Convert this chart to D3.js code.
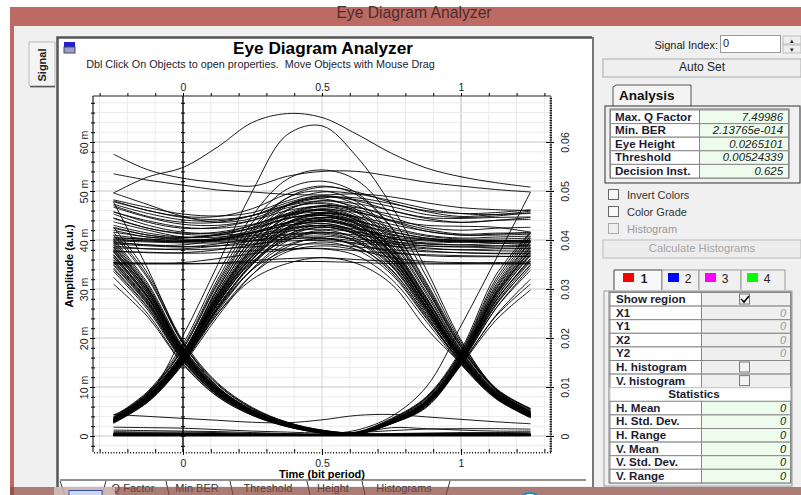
<!DOCTYPE html>
<html>
<head>
<meta charset="utf-8">
<script src="https://cdn.jsdelivr.net/npm/d3@7"></script>
<style>
  html, body { margin: 0; padding: 0; background: #fff; overflow: hidden; }
  text { font-family: "Liberation Sans", Arial, sans-serif; }
  .axis text { font-size: 10.5px; fill: #222; }
</style>
</head>
<body>
<svg id="chart" width="801" height="495"></svg>
<script>
// sample instants of every trace, in bit periods
const times = [-0.25, -0.125, 0, 0.125, 0.25, 0.375, 0.5, 0.625, 0.75, 0.875, 1, 1.125, 1.25];

// amplitudes in milli units
const flatTraces = [
  [48.2,46.6,45.3,44.9,45.6,48.0,49.8,49.4,48.0,46.4,45.4,45.2,45.9],
  [47.8,46.0,44.6,44.2,45.0,47.2,48.8,48.2,46.8,45.2,44.6,44.9,45.6],
  [47.3,45.4,44.1,43.9,45.0,47.0,48.0,47.4,46.0,44.6,44.4,44.6,44.7],
  [46.7,44.6,43.2,43.0,44.0,46.0,47.0,46.6,45.2,44.0,43.6,44.0,44.2],
  [45.7,43.9,42.6,42.4,43.2,45.2,46.2,45.6,44.0,43.0,42.8,42.6,41.6],
  [45.3,43.0,41.6,41.4,42.4,44.4,45.4,44.8,43.2,41.8,41.0,41.0,41.2],
  [44.5,42.4,41.2,41.0,41.6,43.6,44.6,43.8,42.2,40.8,40.2,40.2,40.4],
  [43.7,42.0,40.6,40.6,41.4,43.0,43.8,43.0,41.6,40.4,40.0,39.9,39.9],
  [42.4,41.0,40.2,40.2,41.0,42.4,43.0,42.2,41.0,40.2,39.9,39.8,39.7],
  [41.6,40.6,40.0,40.0,40.8,41.8,42.2,41.6,40.6,40.0,39.8,39.7,39.6],
  [40.4,40.2,39.9,39.9,40.4,41.2,41.6,41.0,40.2,39.8,39.6,39.4,39.0],
  [40.0,39.8,39.6,39.7,40.0,40.6,40.8,40.2,39.6,39.2,39.0,38.8,38.6],
  [39.8,39.6,39.4,39.4,39.8,40.2,40.4,39.8,39.2,38.8,38.6,38.4,38.3],
  [39.4,39.0,38.6,38.8,39.2,39.8,39.9,39.4,38.8,38.2,38.0,37.8,37.7],
  [38.4,38.2,38.0,38.2,38.6,39.0,39.2,38.6,38.0,37.6,37.4,37.3,37.3],
  [37.6,37.5,37.3,37.4,37.8,38.2,38.3,37.8,37.3,37.0,36.8,36.7,36.6],
  [35.1,35.1,35.2,35.3,35.8,36.2,36.4,36.0,35.6,35.3,35.2,35.1,35.1],
  [35.3,35.2,35.1,35.2,35.4,35.6,35.6,35.4,35.2,35.1,35.1,35.2,35.2],
  [49.6,47.2,44.8,43.6,44.4,47.0,48.6,48.6,47.4,46.0,45.4,45.6,46.2],
  [53.5,52.2,51.2,50.2,49.8,49.3,49.2,49.4,48.8,47.6,46.6,46.2,46.0]
];

const riseFallTraces = [
  [3.0,7.2,15.0,25.0,32.0,35.2,36.4,35.2,31.0,22.0,14.8,8.0,4.0],
  [3.2,7.6,15.5,26.0,34.0,38.0,39.6,38.0,33.0,24.0,15.2,8.2,4.2],
  [3.4,7.8,15.8,27.0,35.6,40.0,41.4,39.8,34.6,25.0,15.6,8.4,4.4],
  [2.8,7.4,15.2,26.0,35.0,40.6,42.6,41.0,35.6,26.0,16.0,8.6,4.5],
  [3.0,7.8,16.0,27.6,36.6,41.8,43.4,41.6,36.0,26.4,16.2,8.4,4.3],
  [3.3,8.0,16.4,28.0,37.4,42.6,44.2,42.6,37.0,27.0,16.6,8.8,4.7],
  [2.9,7.6,15.8,28.4,38.0,43.6,45.0,43.2,37.6,27.4,16.4,8.6,4.6],
  [3.5,8.2,16.8,29.0,39.0,44.6,46.0,44.2,38.4,28.0,17.0,9.0,4.8],
  [3.1,8.0,16.6,29.4,39.6,45.4,46.8,45.0,39.0,28.4,17.2,9.0,5.0],
  [3.6,8.6,17.2,30.0,40.4,46.2,47.6,45.8,40.0,29.4,17.6,9.2,5.2],
  [3.2,8.2,17.0,30.4,41.4,47.2,48.4,46.2,40.6,30.0,18.0,9.4,5.0],
  [3.7,8.8,17.8,31.4,42.4,48.6,50.0,47.8,41.4,30.6,18.2,9.6,5.4],
  [3.8,9.0,18.2,32.0,43.6,50.4,52.0,49.6,42.6,31.4,18.8,9.6,5.6],
  [4.0,9.2,18.8,33.0,45.0,52.4,54.3,52.2,44.6,32.6,19.2,9.8,5.6],
  [2.7,7.0,14.6,24.4,33.0,38.6,40.4,38.6,33.8,24.6,15.0,7.8,3.7],
  [2.9,7.3,15.1,25.4,34.2,39.8,42.0,40.2,34.8,25.4,15.4,8.1,4.1],
  [3.1,7.5,15.4,26.4,35.2,41.0,43.0,41.2,35.4,25.8,15.8,8.3,4.3],
  [3.0,7.7,15.7,27.2,36.2,42.2,44.6,42.8,36.6,26.6,16.0,8.5,4.4],
  [3.3,7.9,16.1,27.8,37.0,43.2,45.4,43.6,37.4,27.2,16.3,8.6,4.6],
  [3.4,8.1,16.3,28.6,38.4,44.2,46.4,44.6,38.6,28.2,16.8,8.9,4.8]
];

const riseStayTraces = [
  [3.1,7.6,15.6,27.0,36.0,42.0,44.0,42.6,40.4,39.2,39.0,39.3,39.4],
  [2.6,7.0,14.8,25.0,33.0,37.6,38.8,38.0,36.4,35.6,35.4,35.4,35.5],
  [3.3,8.0,16.2,28.0,37.4,43.6,45.6,44.6,42.6,41.0,40.4,40.6,40.8],
  [3.0,7.4,15.4,26.6,35.0,40.4,41.6,40.6,38.8,37.8,37.4,37.2,37.2],
  [3.4,8.2,16.6,28.6,38.4,44.8,46.8,45.8,43.8,41.8,41.0,41.2,41.6],
  [2.9,7.6,15.8,27.0,36.0,41.6,43.0,41.8,39.8,38.8,38.6,38.8,38.9],
  [3.6,8.6,17.0,30.0,40.6,47.0,49.0,48.0,46.0,44.4,43.6,44.0,44.6],
  [3.2,7.8,16.0,28.2,37.8,43.4,45.0,44.0,41.8,40.4,39.8,39.8,39.8],
  [3.8,8.8,17.8,31.0,41.8,48.6,50.8,49.8,47.6,45.8,44.8,45.2,45.4],
  [3.0,7.8,16.2,28.8,38.6,45.0,47.0,46.2,44.0,42.2,41.2,41.4,41.4],
  [3.5,8.4,16.8,29.4,39.8,46.0,48.0,46.8,44.6,42.6,42.0,42.4,42.6],
  [3.3,8.2,16.4,27.6,36.8,42.4,43.8,42.4,40.4,39.4,39.6,39.8,40.0],
  [2.8,7.2,15.0,25.8,34.0,39.0,40.2,39.2,37.6,36.8,36.6,36.6,36.7],
  [3.1,7.5,15.5,26.2,35.4,41.0,42.6,41.4,39.4,38.4,38.0,38.2,38.2],
  [3.2,7.9,16.0,27.4,36.6,42.6,44.6,43.4,41.2,40.0,39.6,39.6,39.5]
];

const stayFallTraces = [
  [42.0,40.6,40.4,41.2,43.0,45.0,45.6,44.0,37.0,27.0,16.0,8.2,4.2],
  [39.6,39.0,39.0,40.0,41.4,43.0,43.4,41.6,35.6,25.8,15.6,8.0,4.0],
  [45.8,43.6,42.4,42.6,44.0,46.6,47.4,45.6,39.6,29.0,17.4,9.0,4.8],
  [38.8,38.2,38.2,38.8,39.8,41.0,41.2,39.6,34.0,24.6,15.0,7.8,4.0],
  [47.0,44.8,43.6,43.6,45.0,47.6,49.0,47.2,41.0,30.2,18.2,9.4,5.0],
  [40.2,39.8,39.6,40.0,41.4,43.6,44.4,42.4,36.4,26.4,15.8,8.2,4.2],
  [35.4,35.3,35.4,36.2,37.2,38.0,38.2,36.8,32.0,23.4,14.6,7.6,3.8],
  [44.4,42.4,41.4,41.6,43.0,45.4,46.2,44.4,38.2,28.0,16.8,8.6,4.6],
  [41.0,40.2,39.8,40.4,42.0,44.4,45.2,43.4,37.4,27.2,16.2,8.4,4.4],
  [48.0,46.0,44.8,44.8,46.4,49.4,51.0,49.2,42.4,31.0,18.6,9.6,5.4],
  [37.8,37.4,37.4,38.0,39.0,40.2,40.4,38.8,33.4,24.2,14.8,7.8,3.9],
  [43.0,41.4,40.6,41.0,42.6,45.0,46.0,44.0,38.0,27.6,16.4,8.6,4.4],
  [40.6,40.0,39.7,40.2,41.6,43.4,44.0,42.2,36.2,26.2,15.7,8.1,4.1],
  [39.2,38.8,38.6,39.2,40.4,42.2,42.8,41.0,35.0,25.4,15.3,7.9,3.9],
  [42.6,41.0,40.5,41.0,42.4,44.4,45.0,43.2,37.2,27.0,16.1,8.3,4.3]
];

const fallZeroTraces = [
  [42.6,33.0,19.4,10.8,5.8,2.8,1.2,0.5,0.3,0.3,0.2,0.2,0.2],
  [41.0,32.0,18.8,10.4,5.6,2.7,1.1,0.5,0.4,0.3,0.3,0.2,0.3],
  [40.2,31.0,18.2,10.0,5.4,2.6,1.0,0.4,0.3,0.2,0.2,0.3,0.2],
  [39.4,30.2,17.8,9.8,5.2,2.5,1.0,0.4,0.2,0.2,0.2,0.2,0.2],
  [38.6,29.8,17.5,9.6,5.1,2.4,0.9,0.4,0.3,0.2,0.2,0.2,0.2],
  [38.0,29.4,17.2,9.4,5.0,2.4,0.9,0.3,0.2,0.3,0.3,0.3,0.3],
  [37.5,28.9,17.0,9.3,5.0,2.3,0.9,0.3,0.2,0.2,0.2,0.3,0.2],
  [37.0,28.4,16.8,9.2,4.9,2.3,0.9,0.3,0.2,0.2,0.2,0.2,0.2],
  [36.5,28.0,16.5,9.0,4.8,2.2,0.8,0.3,0.2,0.2,0.3,0.2,0.2],
  [36.0,27.6,16.2,8.9,4.7,2.2,0.8,0.3,0.3,0.2,0.2,0.2,0.3],
  [35.5,27.2,16.0,8.8,4.7,2.1,0.8,0.3,0.2,0.2,0.2,0.2,0.2],
  [35.0,26.8,15.8,8.6,4.6,2.1,0.8,0.3,0.2,0.2,0.2,0.2,0.2],
  [34.3,26.2,15.5,8.4,4.5,2.0,0.7,0.3,0.2,0.2,0.2,0.2,0.2],
  [33.6,25.6,15.2,8.3,4.4,2.0,0.7,0.2,0.2,0.2,0.2,0.2,0.2],
  [31.0,24.2,14.6,8.0,4.2,1.9,0.6,0.2,0.2,0.2,0.3,0.2,0.2],
  [39.0,30.0,17.6,9.7,5.2,2.5,0.9,0.4,0.3,0.2,0.2,0.2,0.3],
  [37.8,29.2,17.1,9.4,5.0,2.3,0.9,0.3,0.2,0.2,0.2,0.2,0.2],
  [36.8,28.2,16.6,9.1,4.8,2.2,0.8,0.3,0.2,0.3,0.2,0.2,0.2]
];

const fallRiseTraces = [
  [41.6,32.4,19.0,10.6,5.6,2.8,1.2,0.8,3.4,7.8,17.2,32.0,41.4],
  [39.8,30.6,18.0,10.0,5.2,2.5,1.0,0.6,3.0,7.2,16.4,30.0,39.6],
  [38.6,29.8,17.4,9.6,5.1,2.4,0.9,0.7,3.2,7.6,16.8,30.8,40.4],
  [37.6,28.8,17.0,9.2,4.9,2.3,0.8,0.5,2.8,6.8,15.8,28.6,37.8],
  [36.4,28.0,16.4,9.0,4.8,2.2,0.8,0.6,3.0,7.0,16.0,29.2,38.4],
  [35.4,27.0,16.0,8.7,4.6,2.1,0.7,0.5,2.7,6.4,15.2,27.4,36.2],
  [34.0,26.0,15.4,8.4,4.4,2.0,0.7,0.4,2.6,6.2,14.8,26.0,34.4],
  [32.4,24.8,14.8,8.1,4.2,1.9,0.6,0.4,2.5,6.0,14.6,24.6,32.0],
  [38.2,29.4,17.2,9.4,5.0,2.4,0.9,0.6,2.9,6.9,15.9,28.9,38.0],
  [37.0,28.4,16.7,9.1,4.8,2.2,0.8,0.5,2.8,6.6,15.5,28.0,37.0],
  [35.8,27.4,16.2,8.8,4.7,2.1,0.7,0.5,2.7,6.5,15.3,27.6,35.8],
  [34.8,26.6,15.6,8.5,4.5,2.0,0.7,0.4,2.6,6.3,15.0,26.6,35.0]
];

const zeroRiseTraces = [
  [0.3,0.2,0.2,0.2,0.2,0.2,0.3,0.8,3.6,8.0,17.6,32.8,41.6],
  [0.4,0.3,0.2,0.2,0.3,0.2,0.3,0.7,3.4,7.8,17.0,31.4,40.8],
  [0.2,0.2,0.3,0.2,0.2,0.2,0.3,0.6,3.2,7.4,16.6,30.4,39.8],
  [0.3,0.3,0.2,0.2,0.2,0.3,0.2,0.7,3.1,7.2,16.2,29.8,39.0],
  [0.2,0.2,0.2,0.3,0.2,0.2,0.3,0.6,3.0,7.0,15.8,29.0,37.6],
  [0.3,0.2,0.3,0.2,0.3,0.2,0.2,0.5,2.9,6.8,15.6,28.2,36.8],
  [0.2,0.3,0.2,0.2,0.2,0.2,0.2,0.5,2.8,6.6,15.4,27.0,35.6],
  [0.4,0.2,0.2,0.2,0.2,0.2,0.2,0.5,2.7,6.4,15.0,26.0,33.8],
  [0.2,0.2,0.2,0.2,0.2,0.3,0.2,0.4,2.6,6.0,14.6,24.4,31.0],
  [0.3,0.2,0.2,0.3,0.2,0.2,0.2,0.4,2.5,5.8,14.4,23.6,29.8],
  [0.3,0.2,0.2,0.2,0.2,0.2,0.2,0.6,3.0,7.1,16.0,29.4,38.6],
  [0.2,0.3,0.2,0.2,0.2,0.2,0.3,0.6,2.9,6.9,15.7,28.6,37.2],
  [0.3,0.2,0.2,0.2,0.3,0.2,0.2,0.5,2.8,6.7,15.5,27.6,36.2],
  [0.2,0.2,0.3,0.2,0.2,0.2,0.2,0.5,2.7,6.5,15.2,26.8,34.8]
];

const zeroTraces = [
  [0.0,0.0,0.0,0.0,0.0,0.0,0.0,0.0,0.0,0.0,0.0,0.0,0.0],
  [0.1,0.1,0.1,0.1,0.1,0.1,0.1,0.1,0.1,0.1,0.1,0.1,0.1],
  [0.2,0.2,0.2,0.2,0.2,0.1,0.1,0.1,0.2,0.2,0.2,0.2,0.2],
  [0.3,0.3,0.3,0.2,0.2,0.2,0.2,0.2,0.2,0.2,0.2,0.3,0.3],
  [0.4,0.4,0.4,0.3,0.3,0.2,0.2,0.2,0.3,0.3,0.3,0.4,0.4],
  [0.5,0.5,0.4,0.4,0.3,0.3,0.2,0.2,0.3,0.4,0.4,0.4,0.4],
  [0.6,0.6,0.5,0.5,0.4,0.3,0.3,0.3,0.3,0.4,0.5,0.5,0.5],
  [0.7,0.6,0.6,0.5,0.4,0.4,0.3,0.3,0.4,0.5,0.5,0.6,0.6],
  [0.9,0.8,0.8,0.7,0.5,0.4,0.3,0.3,0.5,0.6,0.7,0.7,0.8],
  [1.8,1.7,1.6,1.3,1.0,0.8,0.6,0.7,1.1,1.4,1.5,1.5,1.4],
  [1.2,1.1,1.0,0.9,0.7,0.5,0.4,0.5,1.7,1.5,1.2,1.0,1.0],
  [4.4,4.0,3.6,3.2,2.8,2.7,3.3,4.2,4.4,3.9,3.4,2.9,2.5]
];

// the few traces that stand apart from the bundles
const outlierTraces = [
  [49.6,52.9,54.8,59.0,64.0,65.8,65.0,61.6,57.7,54.7,52.9,51.7,50.8],
  [4.3,8.4,20.5,35.0,50.0,61.5,63.3,57.0,47.0,34.0,19.6,9.5,4.3],
  [57.5,54.3,52.6,51.7,51.0,53.0,54.0,54.0,53.0,51.8,51.0,50.3,49.8],
  [47.8,33.9,19.0,10.0,5.0,2.3,1.0,0.4,0.3,0.2,0.2,0.2,0.2],
  [0.2,0.2,0.2,0.2,0.2,0.2,0.4,1.2,4.0,10.0,22.5,36.0,49.8]
];

const allTraces = [flatTraces, riseFallTraces, riseStayTraces, stayFallTraces,
  fallZeroTraces, fallRiseTraces, zeroRiseTraces, zeroTraces, outlierTraces].flat();

// tick labels and the panel texts
const timeLabels = [0, 0.5, 1];
const amplitudeLabels = [0, 10, 20, 30, 40, 50, 60];
const analysisLabels = ["Max. Q Factor", "Min. BER", "Eye Height", "Threshold", "Decision Inst."];
const analysisValues = ["7.49986", "2.13765e-014", "0.0265101", "0.00524339", "0.625"];
const regionLabels = ["Show region", "X1", "Y1", "X2", "Y2", "H. histogram", "V. histogram"];
const regionValues = ["", "0", "0", "0", "0", "", ""];
const statLabels = ["H. Mean", "H. Std. Dev.", "H. Range", "V. Mean", "V. Std. Dev.", "V. Range"];
const statValues = ["0", "0", "0", "0", "0", "0"];
const optionLabels = ["Invert Colors", "Color Grade", "Histogram"];
const regionTabs = ["1", "2", "3", "4"];
const regionColors = ["#ff0000", "#0000ff", "#ff00ff", "#00ff00"];
const bottomTabs = ["Q Factor", "Min BER", "Threshold", "Height", "Histograms"];

let svg = d3.select("#chart");

// set the ranges: 0, 0.5 and 1 sit at 183, 322 and 461 in the window
let x = d3.scaleLinear().domain([0, 1]).range([183, 461]);
let y = d3.scaleLinear().domain([0, 60]).range([436, 142]);
let yRight = d3.scaleLinear().domain([0, 0.06]).range([436, 142]);
let left = 93, right = 551, top_ = 96, bottom = 452;

function rect(g, x0, y0, w, h, fill, stroke) {
  return g.append("rect").attr("x", x0).attr("y", y0).attr("width", w).attr("height", h)
    .attr("fill", fill).attr("stroke", stroke || "none");
}
function label(g, tx, ty, str, size, opts) {
  opts = opts || {};
  return g.append("text").attr("x", tx).attr("y", ty).text(str)
    .style("font-size", size + "px")
    .style("font-weight", opts.bold ? "bold" : "normal")
    .style("font-style", opts.italic ? "italic" : "normal")
    .attr("text-anchor", opts.anchor || "start")
    .attr("fill", opts.fill || "#222");
}

// window chrome
let chrome = svg.append("g");
rect(chrome, 10, 7, 791, 488, "#bc6a63");
rect(chrome, 14, 26, 787, 469, "#f0f0f0");
label(chrome, 414, 18, "Eye Diagram Analyzer", 15.7, {anchor: "middle", fill: "#4a2e2a"});
rect(chrome, 58, 38, 534, 448, "#fff");
chrome.append("path").attr("d", "M57.5,487V37.5H592").attr("fill", "none").attr("stroke", "#555").attr("stroke-width", 2.5);
chrome.append("path").attr("d", "M593,37V487").attr("fill", "none").attr("stroke", "#777").attr("stroke-width", 2);
chrome.append("path").attr("d", "M29,42H55V87H31L29,85Z").attr("fill", "#f4f4f4").attr("stroke", "#bbb");
chrome.append("path").attr("d", "M30,86.5H55").attr("stroke", "#555").attr("stroke-width", 1.5);
label(chrome, 0, 0, "Signal", 11, {bold: true, anchor: "middle"}).attr("transform", "translate(46,65) rotate(-90)");
rect(chrome, 64, 42, 11, 5, "#2222cc");
rect(chrome, 64, 47, 11, 6, "#9aa0c8", "#446");

label(svg, 323, 54, "Eye Diagram Analyzer", 17.2, {bold: true, anchor: "middle", fill: "#000"});
label(svg, 260.5, 68, "Dbl Click On Objects to open properties.  Move Objects with Mouse Drag", 10.8, {anchor: "middle", fill: "#223"})
  .style("white-space", "pre");

// grid
let grid = svg.append("g");
grid.selectAll(".vgrid").data(d3.range(-3, 14).map(d => d / 10)).join("line")
  .attr("x1", d => x(d)).attr("x2", d => x(d)).attr("y1", top_).attr("y2", bottom)
  .attr("stroke", d => (Math.round(d * 10) % 5 === 0 ? "#d2d2d2" : "#ebebeb"))
  .attr("stroke-width", d => (Math.round(d * 10) % 10 === 0 ? 1.6 : 1));
grid.selectAll(".hgrid").data(d3.range(-2, 70, 2)).join("line")
  .attr("x1", left).attr("x2", right).attr("y1", d => y(d)).attr("y2", d => y(d))
  .attr("stroke", d => (d % 10 === 0 ? "#c6c6c6" : "#ebebeb"));

// traces
let line = d3.line()
  .x((d, i) => x(times[i]))
  .y(d => y(d))
  .curve(d3.curveCatmullRom.alpha(0.5));
svg.append("g").selectAll("path").data(allTraces).join("path")
  .attr("d", line).attr("fill", "none").attr("stroke", "#000").attr("stroke-width", 0.9);

// axes
function plain(g) { g.selectAll("text").remove(); g.select(".domain").remove(); }

let minorTime = d3.range(-3, 14).map(d => d / 10);
let fineTime = d3.range(-32, 133).map(d => d / 100);
let minorAmp = d3.range(-2, 70, 2);
let fineAmp = d3.range(-3, 69.5, 0.5);
let timeFormat = d => String(d);

// top axis
svg.append("g").attr("class", "axis").attr("transform", "translate(0," + top_ + ")")
  .call(d3.axisTop(x).tickValues(minorTime).tickSize(3).tickFormat(""))
  .call(plain);
svg.append("line").attr("x1", left).attr("x2", right).attr("y1", top_).attr("y2", top_).attr("stroke", "#222").attr("stroke-width", 1.2);
svg.append("g").attr("class", "axis").attr("transform", "translate(0," + top_ + ")")
  .call(d3.axisTop(x).tickValues(timeLabels).tickSize(3).tickPadding(2).tickFormat(timeFormat))
  .call(g => g.select(".domain").remove());

// bottom axis, a dotted run of fine ticks
svg.append("g").attr("class", "axis").attr("transform", "translate(0," + bottom + ")")
  .call(d3.axisBottom(x).tickValues(fineTime).tickSize(1.5).tickFormat(""))
  .call(plain);
svg.append("g").attr("class", "axis").attr("transform", "translate(0," + (bottom - 3) + ")")
  .call(d3.axisBottom(x).tickValues(minorTime).tickSize(3).tickFormat(""))
  .call(plain);
svg.append("g").attr("class", "axis").attr("transform", "translate(0," + bottom + ")")
  .call(d3.axisBottom(x).tickValues(timeLabels).tickSize(3).tickPadding(5).tickFormat(timeFormat))
  .call(g => g.select(".domain").remove());

// left axis
svg.append("line").attr("x1", left).attr("x2", left).attr("y1", top_).attr("y2", bottom).attr("stroke", "#222").attr("stroke-width", 1.2);
svg.append("g").attr("transform", "translate(" + left + ",0)")
  .call(d3.axisLeft(y).tickValues(minorAmp).tickSize(2).tickFormat("")).call(plain);
svg.append("g").attr("transform", "translate(" + left + ",0)")
  .call(d3.axisRight(y).tickValues(minorAmp).tickSize(2).tickFormat("")).call(plain);
svg.append("g").attr("class", "axis").attr("transform", "translate(" + left + ",0)")
  .call(d3.axisLeft(y).tickValues(amplitudeLabels).tickSize(3).tickFormat(d => d === 0 ? "0" : d + " m"))
  .call(g => g.select(".domain").remove())
  .selectAll("text")
    .attr("transform", "rotate(-90)")
    .attr("text-anchor", "middle")
    .attr("x", 0)
    .attr("y", -5)
    .attr("dy", 0);

// inner axis at time 0
svg.append("line").attr("x1", x(0)).attr("x2", x(0)).attr("y1", top_).attr("y2", bottom).attr("stroke", "#000").attr("stroke-width", 1.3);
svg.append("g").attr("transform", "translate(" + x(0) + ",0)")
  .call(d3.axisLeft(y).tickValues(minorAmp).tickSize(2).tickFormat("")).call(plain);
svg.append("g").attr("transform", "translate(" + x(0) + ",0)")
  .call(d3.axisRight(y).tickValues(minorAmp).tickSize(2).tickFormat("")).call(plain);

// right axis, fine ticks and labels
svg.append("line").attr("x1", right).attr("x2", right).attr("y1", top_).attr("y2", bottom).attr("stroke", "#555");
svg.append("g").attr("transform", "translate(" + right + ",0)")
  .call(d3.axisLeft(y).tickValues(fineAmp).tickSize(1.5).tickFormat("")).call(plain);
svg.append("g").attr("transform", "translate(" + right + ",0)")
  .call(d3.axisRight(y).tickValues(fineAmp).tickSize(1).tickFormat("")).call(plain);
svg.append("g").attr("class", "axis").attr("transform", "translate(" + right + ",0)")
  .call(d3.axisLeft(yRight).tickValues(amplitudeLabels.map(d => d / 1000)).tickSize(5).tickFormat(""))
  .call(plain);
svg.append("g").attr("class", "axis").attr("transform", "translate(" + right + ",0)")
  .call(d3.axisRight(yRight).tickValues(amplitudeLabels.map(d => d / 1000)).tickSize(3).tickFormat(d => d === 0 ? "0" : d3.format(".2f")(d)))
  .call(g => g.select(".domain").remove())
  .selectAll("text")
    .attr("transform", "rotate(-90)")
    .attr("text-anchor", "middle")
    .attr("x", 0)
    .attr("y", 18)
    .attr("dy", 0);

// axis titles
label(svg, 322, 478, "Time (bit period)", 11, {bold: true, anchor: "middle", fill: "#000"});
label(svg, 0, 0, "Amplitude (a.u.)", 11, {bold: true, anchor: "middle", fill: "#000"})
  .attr("transform", "translate(73,266) rotate(-90)");

// bottom tab strip
let tabs = svg.append("g");
tabs.append("path").attr("d", "M60,480H586").attr("stroke", "#222").attr("fill", "none");
let tabX = [133, 197, 268, 333, 404];
tabs.selectAll("text").data(bottomTabs).join("text")
  .attr("x", (d, i) => tabX[i]).attr("y", 492).attr("text-anchor", "middle")
  .style("font-size", "11px").attr("fill", "#333").text(d => d);
tabs.selectAll("path.sep").data([[60, 65], [106, 102], [166, 169], [230, 233], [307, 310], [362, 365], [450, 446]]).join("path")
  .attr("class", "sep")
  .attr("d", d => "M" + d[0] + ",481L" + d[1] + ",495").attr("stroke", "#333").attr("fill", "none");

// right panel
let panel = svg.append("g");
label(panel, 718, 49, "Signal Index:", 11, {anchor: "end"});
rect(panel, 720.5, 35.5, 60, 17, "#fff", "#999");
label(panel, 723, 47, "0", 11);
rect(panel, 783, 36, 18, 8, "#eee", "#bbb");
rect(panel, 783, 45, 18, 8, "#eee", "#bbb");
label(panel, 792, 43, "▴", 7, {anchor: "middle"});
label(panel, 792, 52, "▾", 7, {anchor: "middle"});

rect(panel, 603, 59, 198, 18, "#efefef", "#aaa");
label(panel, 702, 71, "Auto Set", 12, {anchor: "middle"});

panel.append("path").attr("d", "M613,106V87L616,85H691V106").attr("fill", "#f4f4f4").attr("stroke", "#555");
label(panel, 619, 100, "Analysis", 13.5, {bold: true, fill: "#111"});
rect(panel, 605, 106, 195, 77, "#f0f0f0", "#333");
rect(panel, 610, 109, 179, 69, "#fff", "#666");

let rowH = 13.6;
analysisLabels.forEach(function(d, i) {
  let ry = 110 + i * rowH;
  rect(panel, 610.5, ry, 89, rowH, "#fff", "#888");
  rect(panel, 699.5, ry, 89, rowH, "#edfced", "#888");
  label(panel, 615, ry + 10.5, d, 11.6, {bold: true, fill: "#1b1b33"});
  label(panel, 783, ry + 10.5, analysisValues[i], 11.4, {italic: true, anchor: "end", fill: "#222"});
});

optionLabels.forEach(function(d, i) {
  let cy = [195, 212, 229][i];
  let grey = i === 2;
  rect(panel, 608.5, cy - 5.5, 10, 10, grey ? "#eee" : "#f8f8f8", grey ? "#aaa" : "#666");
  label(panel, 627, cy + 3.5, d, 11, {fill: grey ? "#999" : "#333"});
});

rect(panel, 603, 240, 198, 18, "#ececec", "#bbb");
label(panel, 702, 252, "Calculate Histograms", 11.2, {anchor: "middle", fill: "#a5a5a5"});

// region tabs
let tabLeft = [614, 662, 699, 741], tabRight = [662, 699, 741, 785];
regionTabs.forEach(function(d, i) {
  panel.append("path").attr("d", "M" + tabLeft[i] + ",290V270H" + tabRight[i] + "V290")
    .attr("fill", i === 0 ? "#f8f8f8" : "#f0f0f0").attr("stroke", i === 0 ? "#444" : "#999");
  rect(panel, tabLeft[i] + (i === 0 ? 9 : 6), 273, 11, 9, regionColors[i]);
  label(panel, tabLeft[i] + (i === 0 ? 30 : 26), 283, d, 12, {bold: i === 0, anchor: "middle", fill: "#222"});
});

// region and statistics table
rect(panel, 604, 291, 188, 195, "#f0f0f0", "#999");
rect(panel, 609, 292, 182, 191, "#fff", "#777");
function tableRow(ry, name, val, fill) {
  rect(panel, 610, ry, 91.5, rowH, "#fff", "#888");
  rect(panel, 701.5, ry, 89, rowH, fill, "#888");
  label(panel, 616, ry + 10.5, name, 11.6, {bold: true, fill: "#1b1b33"});
  if (val !== "") label(panel, 786, ry + 10.5, val, 11, {italic: true, anchor: "end", fill: fill === "#efefef" ? "#999" : "#222"});
}
regionLabels.forEach(function(d, i) { tableRow(292.5 + i * rowH, d, regionValues[i], "#efefef"); });
[0, 5, 6].forEach(function(i) {
  rect(panel, 739.5, 294 + i * rowH, 10, 10, "#f4f4f4", "#777");
});
panel.append("path").attr("d", "M741,299L744,302L749,296").attr("fill", "none").attr("stroke", "#000").attr("stroke-width", 1.6);
rect(panel, 610, 292.5 + 7 * rowH, 180.5, rowH, "#fff", "#ccc");
label(panel, 694, 292.5 + 7 * rowH + 10.5, "Statistics", 11.6, {bold: true, anchor: "middle", fill: "#1b1b33"});
statLabels.forEach(function(d, i) { tableRow(292.5 + (i + 8) * rowH, d, statValues[i], "#edfced"); });

// task bar laid over the bottom of the screenshot
let task = svg.append("g");
rect(task, 10, 487, 791, 8, "#8a4a40").attr("opacity", 0.7);
rect(task, 54, 487, 61, 8, "#e8e0de").attr("opacity", 0.6);
rect(task, 69, 490.5, 33, 8, "#cfd8f0", "#3355aa");
task.append("circle").attr("cx", 530).attr("cy", 505).attr("r", 12).attr("fill", "#fff").attr("stroke", "#2288cc").attr("stroke-width", 2);
</script>
</body>
</html>
